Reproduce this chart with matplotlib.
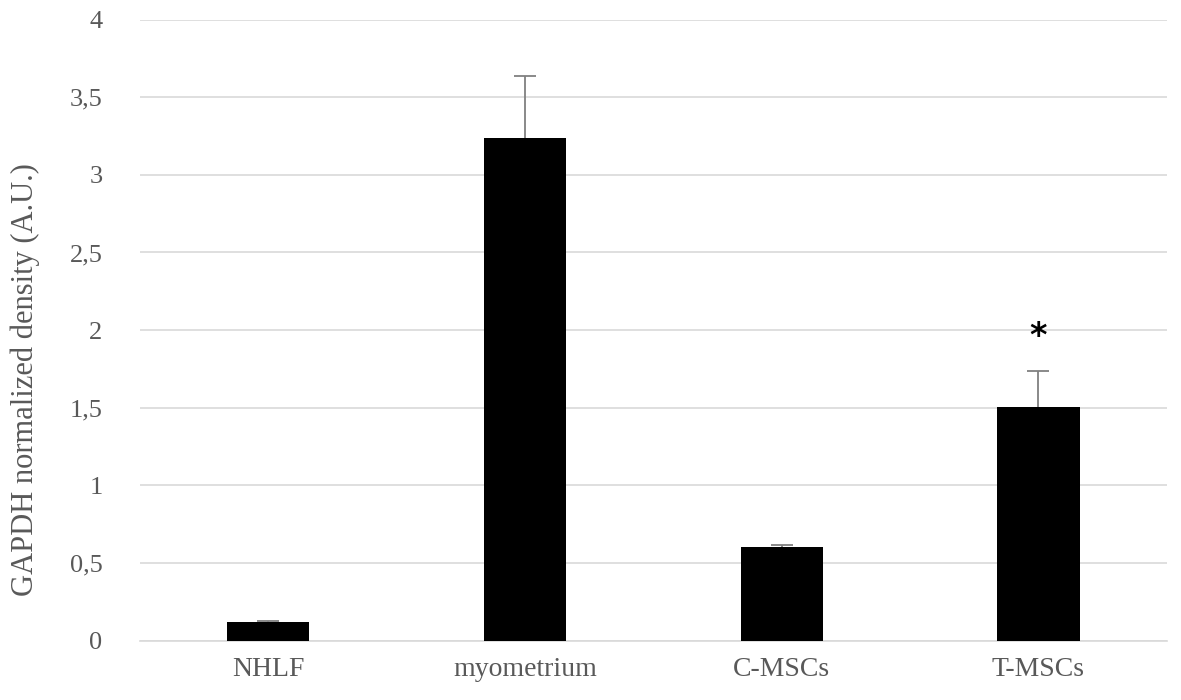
import matplotlib
matplotlib.use("Agg")
import matplotlib.pyplot as plt
from matplotlib.ticker import FuncFormatter

categories = ["NHLF", "myometrium", "C-MSCs", "T-MSCs"]
values = [0.118, 3.24, 0.605, 1.507]
errors = [0.008, 0.395, 0.012, 0.23]
star_y = 1.96
yticks = [0, 0.5, 1, 1.5, 2, 2.5, 3, 3.5, 4]

plt.rcParams['font.family'] = ['Liberation Serif', 'DejaVu Serif']

fig = plt.figure(figsize=(11.81, 7.0), dpi=100)
ax = fig.add_axes([0.1185, 0.0847, 0.8695, 0.8874])

x = list(range(len(categories)))
tops = [v + e for v, e in zip(values, errors)]
ax.bar(x, values, width=0.32, color="black", zorder=3)
ax.vlines(x, values, tops, color="#808080", linewidth=1.3, zorder=4)
ax.plot(x, tops, linestyle="none", marker="_", markersize=16,
        markeredgewidth=1.3, color="#808080", zorder=4)
ax.text(3, star_y, "*", ha="center", va="center", fontsize=24, fontweight="bold",
        fontfamily="DejaVu Sans", color="black")

ax.set_xlim(-0.5, 3.5)
ax.set_ylim(0, 4)
ax.set_yticks(yticks)
ax.yaxis.set_major_formatter(FuncFormatter(lambda v, p: ("%g" % v).replace(".", ",")))
ax.set_xticks(x)
ax.set_xticklabels(categories)
ax.grid(axis="y", color="#d9d9d9", linewidth=1.2, zorder=0)
ax.set_axisbelow(True)
for s in ["top", "right", "left"]:
    ax.spines[s].set_visible(False)
ax.spines["bottom"].set_color("#d9d9d9")
ax.spines["bottom"].set_linewidth(1.2)
ax.tick_params(axis="both", length=0, colors="#595959")
ax.tick_params(axis="y", pad=27, labelsize=19)
ax.tick_params(axis="x", pad=12, labelsize=20)
ax.set_ylabel("GAPDH normalized density (A.U.)", fontsize=22, color="#595959")
ax.yaxis.set_label_coords(-0.097, 0.42)

fig.savefig("out.png", dpi=100)
